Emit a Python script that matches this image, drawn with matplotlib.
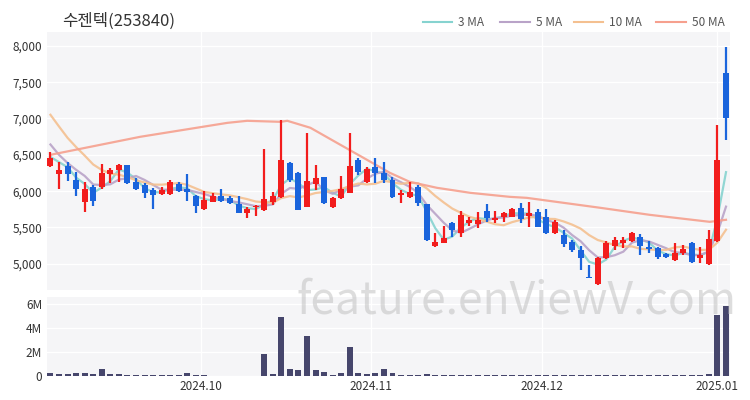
import numpy as np
import matplotlib.pyplot as plt

plt.rcParams['font.family'] = ['Noto Sans CJK KR', 'DejaVu Sans']

# --- data ---
title = '수젠텍(253840)'

opens = [6350, 6230, 6350, 6160, 5850, 6060, 6060, 6240, 6290, 6360,
         6130, 6090, 6020, 5963, 5963, 6100, 6030, 5936, 5757, 5853,
         5936, 5908, 5826, 5702, 5785, 5743, 5853, 5922, 6390, 6250,
         5785, 6101, 6197, 5785, 5908, 5977, 6431, 6129, 6335, 6252,
         6156, 5950, 5922, 6060, 5826, 5248, 5289, 5564, 5427, 5564,
         5550, 5730, 5606, 5647, 5647, 5771, 5661, 5716, 5647, 5427,
         5399, 5303, 5193, 4820, 4725, 5083, 5248, 5289, 5316, 5372,
         5234, 5220, 5138, 5055, 5152, 5289, 5083, 5000, 5316, 7628]
highs = [6540, 6400, 6400, 6270, 6130, 6090, 6380, 6320, 6380, 6365,
         6185, 6115, 6045, 6060, 6156, 6130, 6240, 5950, 6005, 5977,
         6032, 5930, 5936, 5785, 5810, 6583, 5991, 6980, 6400, 6260,
         6803, 6362, 6200, 5920, 6211, 6803, 6459, 6335, 6459, 6404,
         6197, 6018, 6129, 6087, 5830, 5427, 5523, 5570, 5730, 5647,
         5716, 5826, 5730, 5716, 5770, 5840, 5853, 5757, 5757, 5606,
         5468, 5330, 5248, 4986, 5097, 5310, 5372, 5372, 5440, 5413,
         5316, 5234, 5152, 5289, 5261, 5300, 5234, 5468, 6913, 7986]
lows = [6335, 6030, 6140, 5940, 5716, 5800, 6030, 6115, 6130, 6100,
        6020, 5910, 5757, 5950, 5950, 5990, 5870, 5700, 5743, 5850,
        5853, 5825, 5700, 5633, 5660, 5730, 5812, 5900, 6130, 5740,
        5780, 6018, 5830, 5770, 5895, 5970, 6225, 6115, 6115, 6115,
        5910, 5840, 5908, 5790, 5320, 5235, 5280, 5372, 5372, 5523,
        5496, 5578, 5564, 5578, 5640, 5564, 5510, 5500, 5415, 5415,
        5234, 5165, 4917, 4800, 4711, 5070, 5193, 5220, 5300, 5124,
        5152, 5069, 5083, 5041, 5124, 5014, 5014, 4990, 5300, 6706]
closes = [6460, 6290, 6240, 6030, 6030, 5870, 6250, 6290, 6360, 6115,
          6030, 5980, 5950, 6018, 6129, 6005, 5990, 5800, 5880, 5936,
          5867, 5840, 5702, 5757, 5800, 5895, 5936, 6431, 6156, 5743,
          6142, 6184, 5840, 5908, 6032, 6349, 6266, 6307, 6252, 6156,
          5922, 5977, 5991, 5840, 5330, 5303, 5358, 5468, 5675, 5606,
          5606, 5633, 5633, 5702, 5757, 5620, 5702, 5510, 5427, 5578,
          5275, 5193, 5083, 4807, 5083, 5289, 5330, 5330, 5427, 5248,
          5206, 5097, 5097, 5152, 5206, 5028, 5124, 5344, 6431, 7009]
# closes before the visible window (estimated so the MAs start where they do)
prior_closes = [7900, 7800, 7300, 7200, 7100, 7000, 6800, 6500, 6450]

volumes = [0.25, 0.2, 0.2, 0.25, 0.25, 0.2, 0.55, 0.15, 0.15, 0.12,
           0.1, 0.08, 0.08, 0.08, 0.08, 0.08, 0.28, 0.12, 0.05, 0.04,
           0.04, 0.04, 0.04, 0.04, 0.04, 1.8, 0.15, 4.95, 0.55, 0.48,
           3.35, 0.48, 0.33, 0.1, 0.28, 2.43, 0.25, 0.2, 0.28, 0.55,
           0.22, 0.12, 0.12, 0.12, 0.2, 0.06, 0.06, 0.05, 0.05, 0.05,
           0.06, 0.05, 0.05, 0.05, 0.06, 0.05, 0.05, 0.05, 0.05, 0.05,
           0.05, 0.1, 0.05, 0.05, 0.05, 0.1, 0.1, 0.05, 0.05, 0.05,
           0.05, 0.05, 0.05, 0.05, 0.05, 0.05, 0.05, 0.2, 5.1, 5.85]  # millions

# 50 MA (index, value)
ma50_x = [0, 10.5, 20.7, 23, 26.9, 27.7, 30.4, 33.5, 36.6, 39.7, 42, 45.2,
          49.1, 53.7, 55.7, 64.3, 70.1, 77.1, 79]
ma50_y = [6500, 6748, 6940, 6968, 6954, 6968, 6872, 6665, 6459, 6252, 6129,
          6046, 5977, 5922, 5908, 5771, 5674, 5578, 5606]

month_pos = [17.6, 37.5, 57.5, 78.0]
month_labels = ['2024.10', '2024.11', '2024.12', '2025.01']
price_ticks = [5000, 5500, 6000, 6500, 7000, 7500, 8000]
vol_ticks = [0, 2, 4, 6]

ma_names = ['3 MA', '5 MA', '10 MA', '50 MA']
ma_colors = ['#86d3d0', '#b9a3c8', '#f4c090', '#f6a08e']

# --- figure ---
fig = plt.figure(figsize=(7.5, 4), dpi=100)
bg = '#f5f5f7'
ax = fig.add_axes([0.0627, 0.275, 0.911, 0.645])
axv = fig.add_axes([0.0627, 0.06, 0.911, 0.1975], sharex=ax)

x = np.arange(len(closes))
up_c, dn_c = '#f21d1d', '#1a64dc'
colors = [up_c if c >= o else dn_c for o, c in zip(opens, closes)]

for a in (ax, axv):
    a.set_facecolor(bg)
    for s in a.spines.values():
        s.set_visible(False)
    a.grid(True, color='white', lw=1)
    a.set_axisbelow(True)
    a.tick_params(length=0, labelsize=8.5, labelcolor='#333333')

# moving averages
allc = np.array(prior_closes + closes, dtype=float)
n0 = len(prior_closes)
for w, col in zip([3, 5, 10], ma_colors[:3]):
    ma = np.convolve(allc, np.ones(w) / w, mode='valid')
    ma = ma[n0 - w + 1:]
    ax.plot(x, ma, color=col, lw=1.6, alpha=0.9, zorder=2)
ax.plot(ma50_x, ma50_y, color=ma_colors[3], lw=1.6, alpha=0.9, zorder=2)

# candles
ax.vlines(x, lows, highs, colors=colors, lw=1.6, zorder=3)
body = np.abs(np.array(closes) - np.array(opens))
body = np.maximum(body, 15)
ax.bar(x, body, bottom=np.minimum(opens, closes), width=0.7, color=colors, zorder=3)

ax.set_ylim(4640, 8190)
ax.set_yticks(price_ticks)
ax.set_yticklabels([f'{v:,}' for v in price_ticks])
ax.set_xlim(-0.4, 79.5)
ax.set_xticks(month_pos)
plt.setp(ax.get_xticklabels(), visible=False)

# volume
axv.bar(x, volumes, width=0.7, color='#46466c', zorder=3)
axv.set_ylim(0, 6.6)
axv.set_yticks(vol_ticks)
axv.set_yticklabels(['0' if v == 0 else f'{v}M' for v in vol_ticks])
axv.set_xticks(month_pos)
axv.set_xticklabels(month_labels)
axv.tick_params(axis='x', pad=3)

# title and legend
fig.text(0.083, 0.948, title, fontsize=12, color='#333333', va='center')
lx = [0.564, 0.667, 0.765, 0.875]
for name, col, px in zip(ma_names, ma_colors, lx):
    fig.lines.append(plt.Line2D([px, px + 0.039], [0.945, 0.945], color=col, lw=1.5,
                                transform=fig.transFigure))
    fig.text(px + 0.047, 0.945, name, fontsize=8.5, color='#555555', va='center')

fig.text(0.982, 0.25, 'feature.enViewV.com', fontsize=32, color='#bdbdbd',
         alpha=0.5, ha='right', va='center', zorder=10)

fig.savefig('out.png', dpi=100)
